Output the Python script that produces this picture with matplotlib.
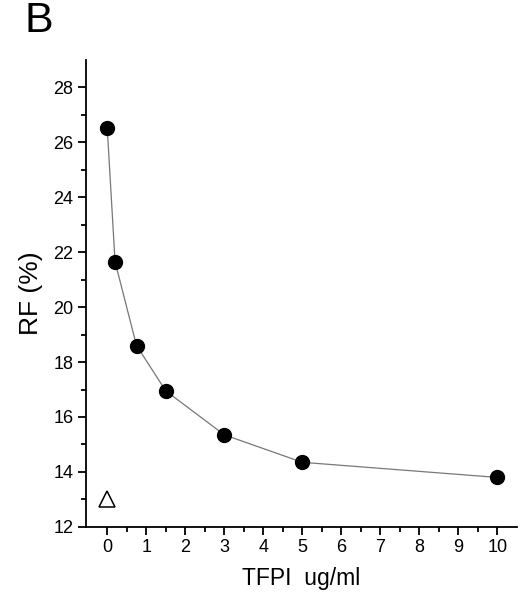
import matplotlib.pyplot as plt
import matplotlib as ml
import numpy as np

# TFPI dose response
tfpi = [0, 0.2, 0.75, 1.5, 3, 5, 10]
rf = [26.5, 21.65, 18.6, 16.95, 15.35, 14.35, 13.8]
ctrl_x = [0]
ctrl_y = [13.0]

ml.rc('font', family='Liberation Sans', size=11)

fig = plt.figure(figsize=(5.2, 5.92), dpi=100)
ax = fig.add_axes([0.165, 0.110, 0.829, 0.789])

ax.plot(tfpi, rf, color='#777777', lw=0.9, zorder=1)
ax.plot(tfpi, rf, 'o', color='black', ms=10, zorder=2)
ax.plot(ctrl_x, ctrl_y, '^', mfc='white', mec='black', mew=1.1, ms=11, zorder=2)

ax.set_xlim(-0.55, 10.5)
ax.set_ylim(12, 29)
ax.set_xticks(np.arange(0, 11, 1))
ax.set_xticks(np.arange(0.5, 10.5, 1), minor=True)
ax.set_yticks(np.arange(12, 29, 2))
ax.set_yticks(np.arange(13, 29, 2), minor=True)

for s in ['top', 'right']:
    ax.spines[s].set_visible(False)
for s in ['left', 'bottom']:
    ax.spines[s].set_linewidth(1.3)
ax.tick_params(which='major', length=6, width=1.3, direction='out', labelsize=13, pad=3)
ax.tick_params(which='minor', length=3.5, width=1.3, direction='out')

ax.set_xlabel('TFPI  ug/ml', fontsize=16.5, labelpad=8)
ax.set_ylabel('RF (%)', fontsize=19, labelpad=7)

fig.text(0.048, 0.998, 'B', fontsize=31, va='top')

plt.savefig('out.png', dpi=100)
